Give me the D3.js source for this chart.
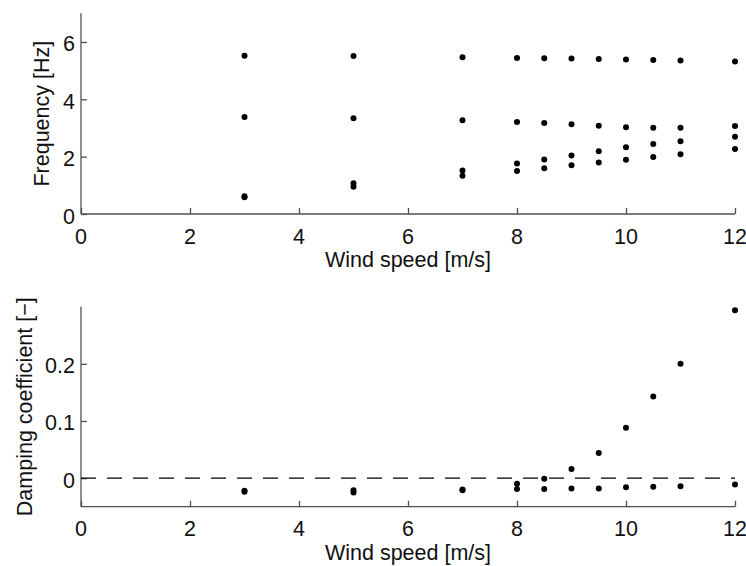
<!DOCTYPE html>
<html>
<head>
<meta charset="utf-8">
<script src="https://cdn.jsdelivr.net/npm/d3@7"></script>
<style>
  html, body { margin: 0; padding: 0; background: #fff; }
  svg text { font-family: "Liberation Sans", Arial, sans-serif; fill: #111; }
</style>
</head>
<body>
<svg id="chart" width="746" height="566"></svg>
<script>
// ---- data ----
const windSpeeds = [3, 5, 7, 8, 8.5, 9, 9.5, 10, 10.5, 11, 12];
const freqMode1 = [0.58, 0.95, 1.33, 1.50, 1.60, 1.70, 1.80, 1.89, 1.99, 2.08, 2.27];
const freqMode2 = [0.62, 1.07, 1.52, 1.76, 1.90, 2.04, 2.19, 2.33, 2.44, 2.54, 2.69];
const freqMode3 = [3.38, 3.34, 3.27, 3.21, 3.17, 3.13, 3.08, 3.03, 3.01, 3.01, 3.07];
const freqMode4 = [5.52, 5.51, 5.47, 5.44, 5.43, 5.42, 5.41, 5.39, 5.37, 5.35, 5.32];
const dampMode1 = [-0.024, -0.025, -0.021, -0.019, -0.019, -0.018, -0.018, -0.016, -0.015, -0.014, -0.011];
const dampMode2 = [-0.022, -0.021, -0.020, -0.010, -0.001, 0.016, 0.044, 0.088, 0.143, 0.200, 0.294];
const xTicks = [0, 2, 4, 6, 8, 10, 12];
const freqTicks = [0, 2, 4, 6];
const dampTicks = [0, 0.1, 0.2];
const xLabel = "Wind speed [m/s]";
const freqLabel = "Frequency [Hz]";
const dampLabel = "Damping coefficient [\u2212]";

const svg = d3.select("#chart");
const FS = 21.5;
const axisColor = "#505050";

const x = d3.scaleLinear().domain([0, 12]).range([81, 735]);

function panel(yDomain, yRange, ticks, tickFmt, series, yLab, labX, dashedZero) {
  const y = d3.scaleLinear().domain(yDomain).range(yRange);
  const g = svg.append("g");
  const y0 = yRange[0];

  // x axis (ticks pointing inward)
  const xa = g.append("g").attr("transform", `translate(0,${y0})`)
    .call(d3.axisBottom(x).tickValues(xTicks).tickSize(-6).tickFormat(""));
  xa.select(".domain").attr("stroke", axisColor).attr("stroke-width", 1.3).attr("d", `M${x.range()[0]},0H${x.range()[1]}`);
  xa.selectAll(".tick line").attr("stroke", axisColor).attr("stroke-width", 1.3);

  g.selectAll(".xtl").data(xTicks).enter().append("text")
    .attr("x", d => x(d)).attr("y", y0 + 29.5)
    .attr("text-anchor", "middle").attr("font-size", FS).text(d => d);

  // y axis
  const ya = g.append("g").attr("transform", `translate(${x(0)},0)`)
    .call(d3.axisLeft(y).tickValues(ticks).tickSize(-6).tickFormat(""));
  ya.select(".domain").attr("stroke", axisColor).attr("stroke-width", 1.3).attr("d", `M0,${yRange[0]}V${yRange[1]}`);
  ya.selectAll(".tick line").attr("stroke", axisColor).attr("stroke-width", 1.3);

  g.selectAll(".ytl").data(ticks).enter().append("text")
    .attr("x", x(0) - 6).attr("y", d => y(d) + 9.5)
    .attr("text-anchor", "end").attr("font-size", FS).text(tickFmt);

  if (dashedZero) {
    g.append("line").attr("x1", x(0)).attr("x2", x(12))
      .attr("y1", y(0)).attr("y2", y(0))
      .attr("stroke", "#000").attr("stroke-width", 1.4)
      .attr("stroke-dasharray", "15,11");
  }

  series.forEach(s => {
    g.append("g").selectAll("circle").data(windSpeeds.map((w, i) => [w, s[i]]))
      .enter().append("circle")
      .attr("cx", d => x(d[0])).attr("cy", d => y(d[1]))
      .attr("r", 3).attr("fill", "#000");
  });

  // axis labels
  g.append("text").attr("x", (x(0) + x(12)) / 2).attr("y", y0 + 53)
    .attr("text-anchor", "middle").attr("font-size", FS).text(xLabel);
  const cy = (yRange[0] + yRange[1]) / 2;
  g.append("text").attr("transform", `translate(${labX},${cy}) rotate(-90)`)
    .attr("text-anchor", "middle").attr("font-size", FS).text(yLab);
}

panel([0, 7], [214, 13.3], freqTicks, d => d, [freqMode1, freqMode2, freqMode3, freqMode4], freqLabel, 48.5, false);
panel([-0.05, 0.3], [506.7, 306.7], dampTicks, d => d === 0 ? "0" : d3.format(".1f")(d), [dampMode1, dampMode2], dampLabel, 31.5, true);
</script>
</body>
</html>
